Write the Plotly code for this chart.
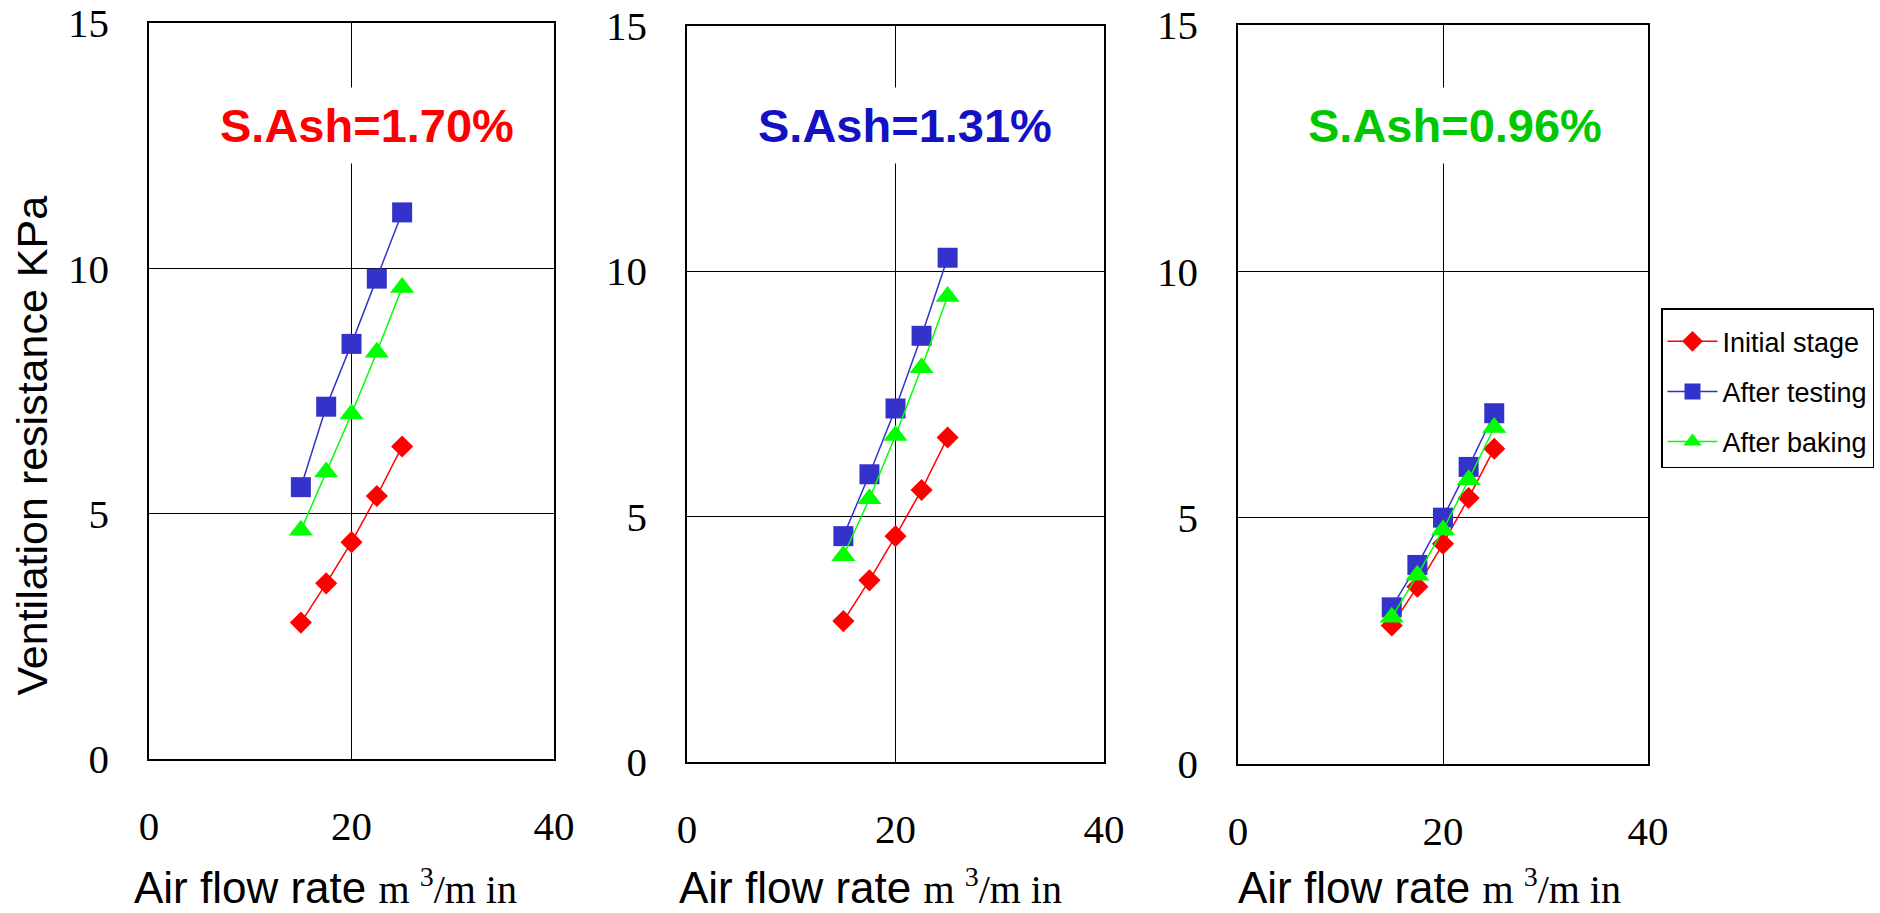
import plotly.graph_objects as go

W, H = 1880, 913

# ---------------- data ----------------
air_flow = [15, 17.5, 20, 22.5, 25]

series_names = ["Initial stage", "After testing", "After baking"]

# panel 1 : S.Ash = 1.70 %
p1_initial = [2.78, 3.58, 4.42, 5.36, 6.37]
p1_testing = [5.54, 7.18, 8.46, 9.79, 11.14]
p1_baking = [4.66, 5.85, 7.03, 8.29, 9.61]

# panel 2 : S.Ash = 1.31 %
p2_initial = [2.87, 3.70, 4.60, 5.54, 6.61]
p2_testing = [4.60, 5.86, 7.20, 8.68, 10.27]
p2_baking = [4.20, 5.36, 6.65, 8.03, 9.48]

# panel 3 : S.Ash = 0.96 %
p3_initial = [2.81, 3.60, 4.47, 5.40, 6.40]
p3_testing = [3.18, 4.04, 5.00, 6.03, 7.12]
p3_baking = [2.98, 3.83, 4.75, 5.77, 6.83]

panel_labels = ["S.Ash=1.70%", "S.Ash=1.31%", "S.Ash=0.96%"]
panel_label_colors = ["#FF0000", "#1212C4", "#00C800"]

x_ticks = [0, 20, 40]
y_ticks = [0, 5, 10, 15]

x_title = "Air flow rate "
x_unit = "m <sup>3</sup>/m in"
y_title = "Ventilation resistance KPa"

# ---------------- styles ----------------
styles = [
    dict(color="#FF0000", symbol="diamond", size=17),
    dict(color="#3333CC", symbol="square", size=20),
    dict(color="#00FF00", symbol="triangle-up", size=21),
]

panels = [
    [p1_initial, p1_testing, p1_baking],
    [p2_initial, p2_testing, p2_baking],
    [p3_initial, p3_testing, p3_baking],
]

# pixel layout of plot frames (left, right, top, bottom)
frames = [
    (149, 554, 23, 759),
    (687, 1104, 25.5, 762),
    (1238, 1648, 25, 764),
]
label_centers_x = [366.5, 905, 1455]
x_title_left = [133, 678, 1237]

def fx(px):
    return px / W

def fy(py):
    return 1 - py / H

fig = go.Figure()

for i, series in enumerate(panels):
    xa = "x" if i == 0 else f"x{i+1}"
    ya = "y" if i == 0 else f"y{i+1}"
    for j, vals in enumerate(series):
        st = styles[j]
        fig.add_trace(go.Scatter(
            x=air_flow, y=vals, mode="lines+markers",
            name=series_names[j], legendgroup=series_names[j],
            showlegend=(i == 2),
            line=dict(color=st["color"], width=1.5),
            marker=dict(color=st["color"], symbol=st["symbol"], size=st["size"],
                        line=dict(width=0)),
            xaxis=xa, yaxis=ya, cliponaxis=False,
        ))

axis_common = dict(
    showline=True, mirror=True, linecolor="black", linewidth=1.5,
    showgrid=True, gridcolor="black", gridwidth=1.3,
    zeroline=False, ticks="", automargin=False,
    tickfont=dict(family="Liberation Serif", size=41, color="black"),
)

layout_axes = {}
for i, (l, r, t, b) in enumerate(frames):
    xk = "xaxis" if i == 0 else f"xaxis{i+1}"
    yk = "yaxis" if i == 0 else f"yaxis{i+1}"
    ax_anchor_y = "y" if i == 0 else f"y{i+1}"
    ax_anchor_x = "x" if i == 0 else f"x{i+1}"
    layout_axes[xk] = dict(axis_common, domain=[fx(l), fx(r)], range=[0, 40],
                           tickvals=x_ticks, anchor=ax_anchor_y,
                           ticklabelstandoff=30)
    layout_axes[yk] = dict(axis_common, domain=[fy(b), fy(t)], range=[0, 15],
                           tickvals=y_ticks, anchor=ax_anchor_x,
                           ticklabelstandoff=30)

annotations = []
for i in range(3):
    annotations.append(dict(
        xref="paper", yref="paper", x=fx(label_centers_x[i]), y=fy(125),
        xanchor="center", yanchor="middle", showarrow=False,
        text=f"<b>{panel_labels[i]}</b>",
        font=dict(family="Liberation Sans", size=47, color=panel_label_colors[i]),
        bgcolor="white", borderpad=11,
    ))
    annotations.append(dict(
        xref="paper", yref="paper", x=fx(x_title_left[i]), y=0,
        xanchor="left", yanchor="bottom", showarrow=False,
        text=(x_title + f"<span style='font-family:Liberation Serif;font-size:40px'>{x_unit}</span>"),
        font=dict(family="Liberation Sans", size=44, color="black"),
        borderpad=0,
    ))

annotations.append(dict(
    xref="paper", yref="paper", x=fx(31), y=fy(445.5),
    xanchor="center", yanchor="middle", showarrow=False, textangle=-90,
    text=y_title,
    font=dict(family="Liberation Sans", size=43, color="black"),
))

fig.update_layout(
    width=W, height=H,
    margin=dict(l=0, r=0, t=0, b=0, autoexpand=False),
    paper_bgcolor="white", plot_bgcolor="white",
    showlegend=True,
    legend=dict(
        x=fx(1661), y=fy(308), xanchor="left", yanchor="top",
        bordercolor="black", borderwidth=1.5, bgcolor="white",
        font=dict(family="Liberation Sans", size=27, color="black"),
        tracegroupgap=12, itemwidth=50,
        title=dict(text=" ", font=dict(size=6)),
    ),
    annotations=annotations,
    **layout_axes,
)

fig.write_html("out.html")
